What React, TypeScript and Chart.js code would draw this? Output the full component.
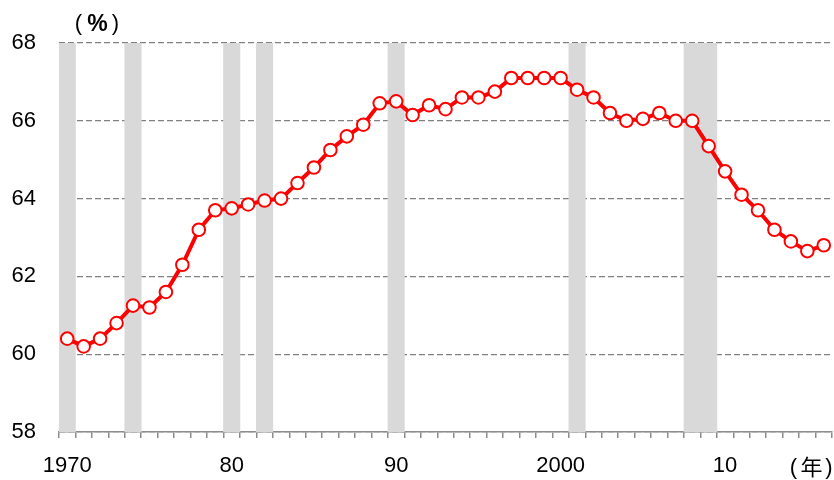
import React, { useEffect, useRef } from "react";
import { Chart, registerables } from "chart.js";

Chart.register(...registerables);

const years: number[] = [
  1970, 1971, 1972, 1973, 1974, 1975, 1976, 1977, 1978, 1979,
  1980, 1981, 1982, 1983, 1984, 1985, 1986, 1987, 1988, 1989,
  1990, 1991, 1992, 1993, 1994, 1995, 1996, 1997, 1998, 1999,
  2000, 2001, 2002, 2003, 2004, 2005, 2006, 2007, 2008, 2009,
  2010, 2011, 2012, 2013, 2014, 2015, 2016,
];

const participationRate: number[] = [
  60.4, 60.2, 60.4, 60.8, 61.25, 61.2, 61.6, 62.3, 63.2, 63.7,
  63.75, 63.85, 63.95, 64.0, 64.4, 64.8, 65.25, 65.6, 65.9, 66.45,
  66.5, 66.15, 66.4, 66.3, 66.6, 66.6, 66.75, 67.1, 67.1, 67.1,
  67.1, 66.8, 66.6, 66.2, 66.0, 66.05, 66.2, 66.0, 66.0, 65.35,
  64.7, 64.1, 63.7, 63.2, 62.9, 62.65, 62.8,
];

const recessionYears: number[] = [1970, 1974, 1980, 1982, 1990, 2001, 2008, 2009];

const xTickLabels: Record<number, string> = {
  1970: "1970",
  1980: "80",
  1990: "90",
  2000: "2000",
  2010: "10",
};

const yMin = 58;
const yMax = 68;
const yStep = 2;

const FONT = '"Liberation Sans", Arial, sans-serif';

export default function App() {
  const ref = useRef<HTMLCanvasElement | null>(null);

  useEffect(() => {
    document.body.style.margin = "0";
    const canvas = ref.current;
    if (!canvas) return;

    const labelsPlugin = {
      id: "unitLabels",
      afterDraw(chart: any) {
        const ctx = chart.ctx;
        ctx.save();
        ctx.fillStyle = "#000";
        ctx.textBaseline = "middle";
        ctx.textAlign = "center";
        ctx.font = `22px ${FONT}`;
        ctx.fillText("(", 78.5, 24);
        ctx.fillText(")", 115.5, 24);
        ctx.font = `bold 23px ${FONT}`;
        ctx.fillText("%", 97.5, 25);
        ctx.font = `22px ${FONT}`;
        ctx.fillText("(", 793.5, 468);
        ctx.fillText(")", 829, 468);
        ctx.font = `22px "Noto Sans CJK JP", sans-serif`;
        ctx.fillText("年", 811.5, 467);
        ctx.restore();
      },
    };

    const chart = new Chart(canvas, {
      type: "bar",
      data: {
        labels: years.map(String),
        datasets: [
          {
            type: "line",
            label: "rate",
            data: participationRate,
            borderColor: "#ff0000",
            borderWidth: 4,
            pointRadius: 6.3,
            pointBorderWidth: 2,
            pointBackgroundColor: "#ffffff",
            pointBorderColor: "#ff0000",
            tension: 0,
            order: 1,
          } as any,
          {
            type: "bar",
            label: "recession",
            data: years.map((y) => (recessionYears.includes(y) ? [yMin, yMax] : null)) as any,
            backgroundColor: "#d9d9d9",
            borderWidth: 0,
            barPercentage: 1,
            categoryPercentage: 1,
            order: 2,
          },
        ],
      },
      options: {
        responsive: false,
        animation: false,
        layout: { autoPadding: false, padding: { top: 43, right: 2, bottom: 0, left: 0 } },
        plugins: {
          legend: { display: false },
          tooltip: { enabled: false },
        },
        scales: {
          x: {
            type: "category",
            offset: true,
            grid: {
              display: true,
              offset: true,
              drawOnChartArea: false,
              drawTicks: true,
              tickLength: 6,
              color: "#8c8c8c",
              lineWidth: 1.5,
            },
            border: { display: true, color: "#8c8c8c", width: 1.5 },
            ticks: {
              autoSkip: false,
              maxRotation: 0,
              minRotation: 0,
              padding: 8,
              color: "#000",
              font: { family: FONT, size: 22, lineHeight: 1.84 },
              callback: (_v: any, i: number) => xTickLabels[years[i]] ?? "",
            },
            afterFit: (scale: any) => {
              scale.height = 48;
            },
          },
          y: {
            min: yMin,
            max: yMax,
            ticks: {
              stepSize: yStep,
              padding: 23,
              color: "#000",
              font: { family: FONT, size: 22 },
            },
            grid: {
              color: "#808080",
              lineWidth: 1.3,
              drawTicks: false,
            },
            border: { display: false, dash: [6, 3] },
            afterFit: (scale: any) => {
              scale.width = 59;
            },
          },
        },
      },
      plugins: [labelsPlugin],
    });

    return () => chart.destroy();
  }, []);

  return (
    <div style={{ width: 834, height: 480 }}>
      <canvas ref={ref} width={834} height={480} style={{ display: "block" }} />
    </div>
  );
}
